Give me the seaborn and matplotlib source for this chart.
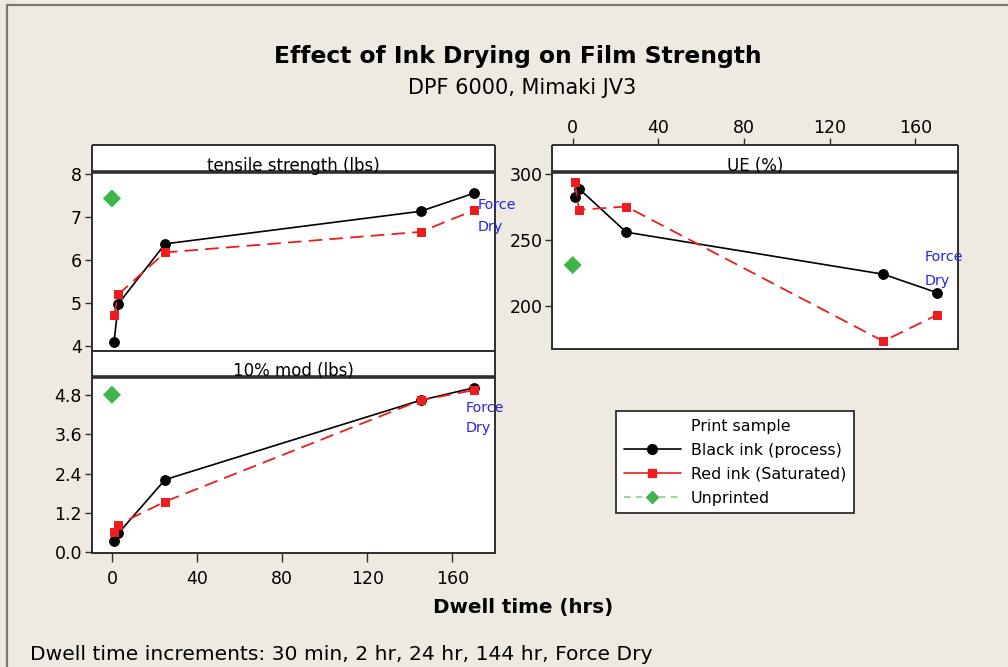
import matplotlib
matplotlib.use("Agg")
import matplotlib.pyplot as plt
from matplotlib.lines import Line2D
import seaborn as sns
import pandas as pd

# ---------------- data ----------------
dwell_hours = [1, 3, 25, 145, 170]          # 30 min, 2 hr, 24 hr, 144 hr, Force Dry
unprinted_x = [0]

tensile_black = [4.09, 4.98, 6.38, 7.14, 7.56]
tensile_red = [4.71, 5.20, 6.18, 6.66, 7.16]
tensile_unprinted = [7.44]

ue_black = [283, 289, 256, 224, 210]
ue_red = [294, 273, 275.5, 173, 193]
ue_unprinted = [231]

mod_black = [0.35, 0.58, 2.22, 4.64, 5.02]
mod_red = [0.61, 0.85, 1.55, 4.64, 4.95]
mod_unprinted = [4.81]

panel_titles = ["tensile strength (lbs)", "UE (%)", "10% mod (lbs)"]
series_labels = ["Black ink (process)", "Red ink (Saturated)", "Unprinted"]
legend_title = "Print sample"
x_ticks = [0, 40, 80, 120, 160]
tensile_ticks = [4, 5, 6, 7, 8]
ue_ticks = [200, 250, 300]
mod_ticks = [0.0, 1.2, 2.4, 3.6, 4.8]

title = "Effect of Ink Drying on Film Strength"
subtitle = "DPF 6000, Mimaki JV3"
xlabel = "Dwell time (hrs)"
footnote = "Dwell time increments: 30 min, 2 hr, 24 hr, 144 hr, Force Dry"

# ---------------- style ----------------
sns.set_theme(style="white")
plt.rcParams["font.family"] = ["DejaVu Sans"]
plt.rcParams["text.color"] = "black"
plt.rcParams["axes.labelcolor"] = "black"
plt.rcParams["xtick.color"] = "black"
plt.rcParams["ytick.color"] = "black"

BG = "#EEEAE1"
EDGE = "#2e2e2e"
BLACK = "#000000"
RED = "#EE1C1C"
GREEN = "#3DB54A"
BLUE = "#2424E6"
TICKSIZE = 12.5

W, H = 1008, 667
fig = plt.figure(figsize=(W / 100, H / 100), dpi=100, facecolor=BG)


def fx(px):
    return px / W


def fy(py):
    return 1 - py / H


def make_panel(left, right, top_strip, strip_bottom, bottom, label):
    ax = fig.add_axes([fx(left), fy(bottom), fx(right) - fx(left), fy(strip_bottom) - fy(bottom)])
    sax = fig.add_axes([fx(left), fy(strip_bottom), fx(right) - fx(left), fy(top_strip) - fy(strip_bottom)])
    sax.set_zorder(3)
    sax.set_facecolor("white")
    sax.set_xticks([])
    sax.set_yticks([])
    for s in sax.spines.values():
        s.set_color(EDGE)
        s.set_linewidth(1.4)
        s.set_capstyle("butt")
    sax.spines["bottom"].set_linewidth(2.6)
    sax.text(0.5, 0.03, label, transform=sax.transAxes, ha="center", va="baseline",
             fontsize=12, color="black")
    ax.set_facecolor("white")
    for s in ax.spines.values():
        s.set_color(EDGE)
        s.set_linewidth(1.4)
    ax.spines["top"].set_visible(False)
    ax.set_xlim(-9.5, 180)
    ax.grid(False)
    return ax, sax


def draw_series(ax, blk, red, unp):
    df_b = pd.DataFrame({"x": dwell_hours, "y": blk})
    df_r = pd.DataFrame({"x": dwell_hours, "y": red})
    sns.lineplot(data=df_b, x="x", y="y", ax=ax, color=BLACK, marker="o", markersize=7,
                 markeredgecolor=BLACK, linewidth=1.2, estimator=None, sort=False, zorder=3)
    sns.lineplot(data=df_r, x="x", y="y", ax=ax, color=RED, marker="s", markersize=5.8,
                 markeredgecolor=RED, linewidth=1.3, linestyle=(0, (7.5, 4)),
                 estimator=None, sort=False, zorder=4)
    sns.scatterplot(x=unprinted_x, y=unp, ax=ax, marker="D", s=85, color=GREEN,
                    edgecolor="none", zorder=5)
    ax.set_xlabel("")
    ax.set_ylabel("")


def force_dry(ax, x, y1, y2):
    ax.text(x, y1, "Force", color=BLUE, fontsize=10.3, ha="left", va="center", clip_on=False, zorder=6)
    ax.text(x, y2, "Dry", color=BLUE, fontsize=10.3, ha="left", va="center", clip_on=False, zorder=6)


# top-left: tensile
ax1, s1 = make_panel(91.7, 495, 145, 172.3, 351, panel_titles[0])
draw_series(ax1, tensile_black, tensile_red, tensile_unprinted)
ax1.set_ylim(3.88, 8.05)
ax1.set_yticks(tensile_ticks)
ax1.set_yticklabels([str(t) for t in tensile_ticks])
ax1.set_xticks([])
ax1.tick_params(axis="y", left=True, length=5, width=1, color=EDGE, pad=2, labelsize=TICKSIZE)
force_dry(ax1, 171.8, 7.28, 6.77)

# bottom-left: 10% mod
ax3, s3 = make_panel(91.7, 495, 351, 376.7, 552.7, panel_titles[2])
draw_series(ax3, mod_black, mod_red, mod_unprinted)
ax3.set_ylim(-0.01, 5.36)
ax3.set_yticks(mod_ticks)
ax3.set_yticklabels([f"{t:.1f}" for t in mod_ticks])
ax3.set_xticks(x_ticks)
ax3.set_xticklabels([str(t) for t in x_ticks])
ax3.tick_params(axis="y", left=True, length=5, width=1, color=EDGE, pad=2, labelsize=TICKSIZE)
ax3.tick_params(axis="x", bottom=True, length=6.5, width=1, color=EDGE, pad=6, labelsize=TICKSIZE)
force_dry(ax3, 166.2, 4.40, 3.79)

# top-right: UE
ax2, s2 = make_panel(552.3, 958.3, 145, 171.7, 349, panel_titles[1])
draw_series(ax2, ue_black, ue_red, ue_unprinted)
ax2.set_ylim(167.1, 302.0)
ax2.set_yticks(ue_ticks)
ax2.set_yticklabels([str(t) for t in ue_ticks])
ax2.tick_params(axis="y", left=True, length=5, width=1, color=EDGE, pad=2, labelsize=TICKSIZE)
s2.set_xlim(-9.5, 180)
s2.set_xticks(x_ticks)
s2.set_xticklabels([str(t) for t in x_ticks])
s2.tick_params(axis="x", top=True, bottom=False, labeltop=True, labelbottom=False,
               length=5, width=1, color=EDGE, pad=1, labelsize=TICKSIZE)
ax2.set_xticks([])
force_dry(ax2, 164.1, 237.2, 219.0)

# ---------------- legend ----------------
handles = [
    Line2D([], [], linestyle="none", marker=None),
    Line2D([], [], color=BLACK, marker="o", markersize=7, linewidth=1.2),
    Line2D([], [], color=RED, marker="s", markersize=5.8, linewidth=1.2),
    Line2D([], [], color="#8FD08F", marker="D", markersize=6.5, markerfacecolor=GREEN,
           markeredgecolor=GREEN, linewidth=1.2, linestyle=(0, (4, 3))),
]
labels = [legend_title] + series_labels
leg = fig.legend(handles, labels, loc="upper left", bbox_to_anchor=(fx(616), fy(411)),
                 frameon=True, fancybox=False, edgecolor=EDGE, facecolor="white", framealpha=1,
                 fontsize=11.4, handlelength=3.6, handletextpad=0.63, labelspacing=0.56,
                 borderpad=0.5, borderaxespad=0)
leg.get_frame().set_linewidth(1.3)

# ---------------- text ----------------
fig.text(fx(518), fy(57), title, ha="center", va="center", fontsize=16.8, fontweight="bold")
fig.text(fx(522), fy(88), subtitle, ha="center", va="center", fontsize=15)
fig.text(fx(523), fy(607), xlabel, ha="center", va="center", fontsize=14.3, fontweight="bold")
fig.text(fx(30), fy(655), footnote, ha="left", va="center", fontsize=14.6)

# window frame lines
fig.add_artist(Line2D([fx(7), 1], [fy(5), fy(5)], transform=fig.transFigure, color="#7a7a7a", lw=1.6))
fig.add_artist(Line2D([fx(7), fx(7)], [fy(5), 0], transform=fig.transFigure, color="#7a7a7a", lw=1.6))

fig.savefig("out.png", dpi=100, facecolor=BG)
